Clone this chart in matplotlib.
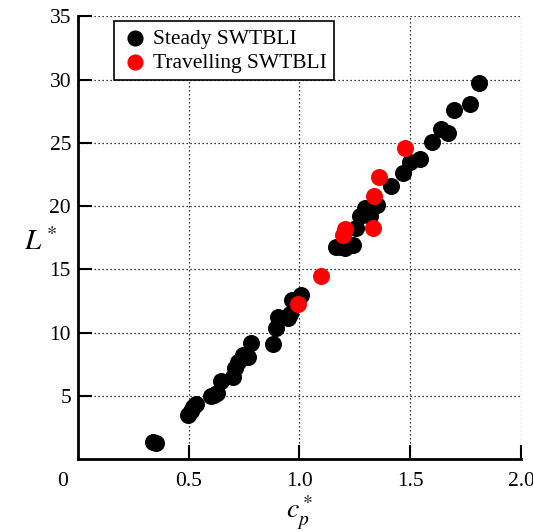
import matplotlib
matplotlib.use("Agg")
import matplotlib.pyplot as plt

plt.rcParams["font.family"] = ["Liberation Serif", "DejaVu Serif"]
plt.rcParams["mathtext.fontset"] = "stix"

# Steady SWTBLI (black)
steady_cp = [0.34, 0.35, 0.497, 0.51, 0.519, 0.535, 0.602, 0.615, 0.628, 0.647,
             0.70, 0.708, 0.723, 0.745, 0.768, 0.783, 0.881, 0.893, 0.904, 0.949,
             0.956, 0.964, 1.009, 1.167, 1.189, 1.205, 1.242, 1.257, 1.272, 1.317,
             1.295, 1.348, 1.415, 1.468, 1.498, 1.543, 1.599, 1.641, 1.671, 1.697,
             1.769, 1.811]
steady_L = [1.35, 1.25, 3.45, 3.8, 4.1, 4.35, 5.0, 5.05, 5.25, 6.17,
            6.5, 7.18, 7.7, 8.2, 8.1, 9.15, 9.1, 10.35, 11.27, 11.14,
            11.5, 12.6, 12.98, 16.8, 16.8, 16.7, 16.95, 18.27, 19.2, 19.2,
            19.85, 20.1, 21.56, 22.6, 23.5, 23.7, 25.1, 26.1, 25.8, 27.6,
            28.1, 29.75]

# Travelling SWTBLI (red)
travel_cp = [0.994, 1.096, 1.197, 1.207, 1.330, 1.337, 1.360, 1.476]
travel_L = [12.27, 14.5, 17.7, 18.18, 18.3, 20.8, 22.27, 24.6]

fig = plt.figure(figsize=(5.33, 5.32), dpi=100)
ax = fig.add_axes([0.1463, 0.1372, 0.8312, 0.8318])

ax.scatter(steady_cp, steady_L, s=150, color="black", linewidths=0, zorder=3,
           label="Steady SWTBLI")
ax.scatter(travel_cp, travel_L, s=150, color="red", linewidths=0, zorder=4,
           label="Travelling SWTBLI")

ax.set_xlim(0, 2.0)
ax.set_ylim(0, 35)
ax.set_xticks([0.5, 1.0, 1.5, 2.0])
ax.set_xticklabels(["0.5", "1.0", "1.5", "2.0"])
ax.set_yticks([5, 10, 15, 20, 25, 30, 35])

# dotted grid instead of top/right spines
ax.grid(True, linestyle=(0, (1, 2.2)), color="black", linewidth=0.9)
ax.set_axisbelow(True)
for side in ["top", "right"]:
    ax.spines[side].set_visible(False)
for side in ["left", "bottom"]:
    ax.spines[side].set_linewidth(2.0)

ax.tick_params(direction="in", length=10, width=1.5, labelsize=15.5)
ax.tick_params(axis="x", pad=9)
ax.tick_params(axis="y", pad=5)
ax.text(-0.035, -0.03, "0", transform=ax.transAxes, fontsize=15.5,
        ha="center", va="top")

ax.set_xlabel(r"$c_p^*$", fontsize=20, labelpad=2)
ax.set_ylabel(r"$L^*$", fontsize=21, rotation=0, va="center", ha="center")
ax.yaxis.set_label_coords(-0.085, 0.49)

leg = ax.legend(loc="upper left", bbox_to_anchor=(0.081, 0.99), borderaxespad=0,
                fontsize=15.5, frameon=True, fancybox=False, framealpha=1,
                edgecolor="black", handletextpad=0.15, labelspacing=0.2,
                borderpad=0.35, handlelength=1.3, markerscale=0.95)
leg.get_frame().set_linewidth(1.2)

fig.savefig("out.png", dpi=100)
